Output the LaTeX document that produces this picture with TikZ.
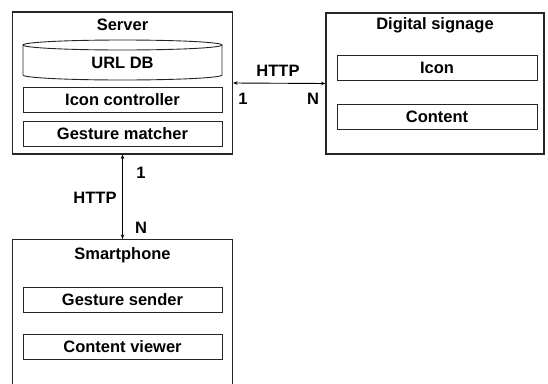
\documentclass[tikz,border=0pt]{standalone}
\usepackage{fontspec}
\setmainfont{Liberation Sans}
\usetikzlibrary{arrows.meta}
\begin{document}
\begin{tikzpicture}[x=1pt,y=-1pt,
  outer/.style={draw=black!85,line width=1.1pt,rectangle,inner sep=0pt,minimum width=220pt},
  inner/.style={draw=black!85,line width=0.9pt,rectangle,inner sep=0pt,minimum width=199pt,minimum height=25pt,font=\fontsize{16.5}{18}\selectfont\bfseries},
  lbl/.style={inner sep=0pt,font=\fontsize{16.5}{18}\selectfont\bfseries},
  conn/.style={line width=0.9pt,{Stealth[length=4.5pt,width=3.5pt]}-{Stealth[length=4.5pt,width=3.5pt]}}]
\useasboundingbox (0,0) rectangle (548,383);
% boxes
\node[outer,minimum height=142pt] (server) at (122.5,83) {};
\node[outer,minimum width=218pt,minimum height=141pt] (sign) at (435,83.5) {};
\node[outer,minimum height=145pt] (phone) at (122.5,312) {};
% titles
\node[lbl] (servert) at (122.5,24.5) {Server};
\node[lbl] (signt) at (435,25.5) {Digital signage};
\node[lbl] (phonet) at (122.5,255.5) {Smartphone};
% cylinder
\draw[draw=black!85,line width=0.9pt] (23,45) -- (23,75) arc[start angle=180,end angle=0,x radius=99.5,y radius=5] -- (222,45);
\draw[draw=black!85,line width=0.9pt] (122.5,45) ellipse[x radius=99.5,y radius=5];
\node[lbl] (urldb) at (122.5,63) {URL DB};
% server inner
\node[inner] (iconctl) at (122.5,99.5) {Icon controller};
\node[inner] (gmatch) at (122.5,133.5) {Gesture matcher};
% signage inner
\node[inner,minimum width=200pt] (icon) at (437,67.5) {Icon};
\node[inner,minimum width=200pt] (content) at (437,116.5) {Content};
% phone inner
\node[inner] (gsend) at (122.5,299.5) {Gesture sender};
\node[inner] (cview) at (122.5,347) {Content viewer};
% connectors
\draw[conn] (server.east) -- (sign.west);
\draw[conn] (server.south) -- (phone.north);
\node[lbl] (h1) at (278,71) {HTTP};
\node[lbl] (h1a) at (243,99) {1};
\node[lbl] (h1b) at (313,99) {N};
\node[lbl] (h2) at (95,198) {HTTP};
\node[lbl] (h2a) at (141,173) {1};
\node[lbl] (h2b) at (141,228) {N};
\end{tikzpicture}
\end{document}
